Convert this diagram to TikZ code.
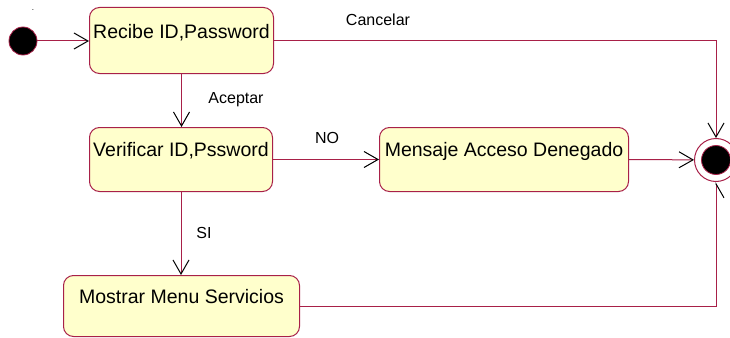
\documentclass[tikz,border=0pt]{standalone}
\usepackage{fontspec}
\setmainfont{Liberation Sans}
\usepackage{tikz}
\usetikzlibrary{arrows.meta, calc, positioning}

\definecolor{umlred}{RGB}{168,32,72}
\definecolor{umlfill}{RGB}{255,255,204}

\begin{document}
\begin{tikzpicture}[x=1pt, y=-1pt,
    state/.style={draw=umlred, fill=umlfill, rounded corners=10pt, inner sep=0pt,
        line width=1pt, anchor=north west, text height=29pt, text depth=35pt,
        font=\fontsize{19.5}{23}\selectfont},
    trans/.style={draw=umlred, line width=1pt,
        -{Straight Barb[black, length=14pt, width=16pt, line width=1pt]}},
    halftrans/.style={draw=umlred, line width=1pt,
        -{Straight Barb[black, length=14pt, width=16pt, line width=1pt, right]}},
    lbl/.style={font=\fontsize{16}{19}\selectfont}]
            \useasboundingbox (0,0) rectangle (730,337);

            % initial and final states
            \node[circle, fill=black, draw=umlred, line width=0.8pt, minimum size=28pt, inner sep=0pt] (init) at (23,41) {};
            \node[font=\fontsize{8}{8}\selectfont] (initname) at (33,10) {.};
            \node[circle, draw=umlred, fill=white, line width=1pt, minimum size=43pt, inner sep=0pt] (fin) at (716,160) {};
            \filldraw[black, draw=umlred, line width=0.8pt] (fin) circle (14.5);

            % states
            \node[state, minimum width=184pt, text height=31pt] (recibe) at (89,7) {Recibe ID,Password};
            \node[state, minimum width=183pt] (verificar) at (89,127) {Verificar ID,Pssword};
            \node[state, minimum width=249pt] (mensaje) at (379,127) {Mensaje Acceso Denegado};
            \node[state, minimum width=236pt, text height=28pt, text depth=33pt] (mostrar) at (63,275) {Mostrar Menu Servicios};

            % transitions
            \draw[trans] (init.east) -- (init.east -| recibe.west);
            \draw[trans] (recibe.east) -| (fin);
            \draw[trans] (recibe.south) -- (recibe.south |- verificar.north);
            \draw[trans] (verificar.east) -- (mensaje.west);
            \draw[trans] (mensaje.east) -- (fin);
            \draw[trans] (verificar.south) -- (verificar.south |- mostrar.north);
            \draw[halftrans] (mostrar.east) -| (fin);

            % guards
            \node[lbl] (cancelar) at (378,20) {Cancelar};
            \node[lbl] (aceptar) at (236,100) {Aceptar};
            \node[lbl] (no) at (327,138) {NO};
            \node[lbl] (si) at (204,233) {SI};
        \end{tikzpicture}
\end{document}
